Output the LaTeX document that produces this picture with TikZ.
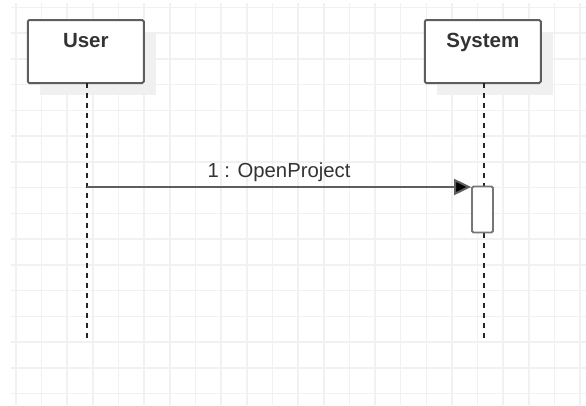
\documentclass[tikz,border=0pt]{standalone}
\usepackage{fontspec}
\setmainfont{Liberation Sans}
\usetikzlibrary{arrows.meta}
\definecolor{gridc}{HTML}{F1F1F1}
\definecolor{boxc}{HTML}{5E5E5E}
\definecolor{shadowc}{HTML}{F0F0F0}
\definecolor{textc}{HTML}{333333}
\tikzset{
  actor/.style={draw=boxc, line width=2pt, fill=white, rounded corners=1.5pt,
    minimum width=116pt, minimum height=63pt, inner sep=0pt},
  actorshadow/.style={fill=shadowc, draw=none, minimum width=116pt, minimum height=63pt, inner sep=0pt},
  lifeline/.style={draw=black!85, line width=1.4pt, dash pattern=on 5pt off 5pt},
  actbox/.style={draw=boxc!85, line width=1.8pt, fill=white, rounded corners=1.5pt,
    minimum width=21pt, minimum height=46pt, inner sep=0pt},
  msg/.style={draw=boxc, line width=2pt, -{Triangle[length=17pt,width=16pt,fill=black]}},
  actorlabel/.style={font=\fontsize{20.5}{24}\selectfont\bfseries, text=textc},
  msglabel/.style={font=\fontsize{20.3}{24}\selectfont, text=textc}
}
\begin{document}
\begin{tikzpicture}[x=1pt,y=-1pt]
\useasboundingbox (0,0) rectangle (586,405);
\fill[white] (0,0) rectangle (586,405);
% grid
\foreach \i in {0,...,22} {
  \draw[gridc, line width=1.6pt] ({15.9+25.65*\i},3) -- ({15.9+25.65*\i},405);
}
\foreach \j in {0,...,15} {
  \draw[gridc, line width=1.6pt] (11,{7.4+25.75*\j}) -- (586,{7.4+25.75*\j});
}
% shadows
\node[actorshadow] (ushadow) at (97.8,63) {};
\node[actorshadow] (sshadow) at (494.5,63) {};
% actors
\node[actor] (user) at (85.8,51.5) {};
\node[actorlabel, anchor=base] (userlabel) at (85.8,47.7) {User};
\node[actor] (system) at (482.8,51.5) {};
\node[actorlabel, anchor=base] (systemlabel) at (482.8,47.7) {System};
% lifeline ends
\coordinate (uend) at (87,340);
\coordinate (send) at (484,340);
\draw[lifeline] (87,83) -- (uend);
\draw[lifeline] (484,83) -- (send);
% activation
\node[actbox] (act) at (482.5,209.5) {};
\coordinate (ustart) at (87,187);
\draw[msg] (ustart) -- (act.north west |- ustart);
\node[msglabel, anchor=base] (msglbl) at (279,177.3) {1 : OpenProject};
\end{tikzpicture}
\end{document}
